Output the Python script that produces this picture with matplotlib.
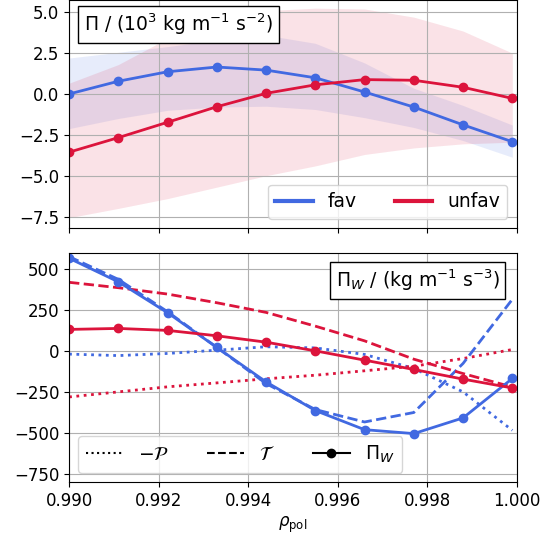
import matplotlib
matplotlib.use('Agg')
import matplotlib.pyplot as plt
from matplotlib.lines import Line2D
import numpy as np

# radial grid (rho_pol)
rho = [0.9900, 0.9911, 0.9922, 0.9933, 0.9944, 0.9955, 0.9966, 0.9977, 0.9988, 0.9999]

# top panel: Pi / (1e3 kg m^-1 s^-2)
pi_fav   = [0.00, 0.78, 1.36, 1.65, 1.46, 0.99, 0.12, -0.80, -1.89, -2.92]
pi_unfav = [-3.56, -2.67, -1.73, -0.78, 0.04, 0.56, 0.88, 0.84, 0.41, -0.27]

pi_fav_hi   = [2.20, 2.55, 2.90, 3.30, 3.60, 3.10, 1.90, 0.35, -0.70, -1.90]
pi_fav_lo   = [-2.12, -1.50, -1.00, -0.80, -0.75, -0.95, -1.45, -2.05, -2.85, -3.87]
pi_unfav_hi = [0.66, 1.80, 3.40, 4.50, 5.10, 5.25, 5.20, 4.70, 3.85, 2.50]
pi_unfav_lo = [-7.57, -7.00, -6.40, -5.70, -5.00, -4.40, -3.70, -3.30, -3.05, -2.95]

# bottom panel: Pi_W / (kg m^-1 s^-3)
piw_fav   = [568, 424, 235, 23, -188, -363, -480, -504, -408, -167]
piw_unfav = [133, 139, 127, 94, 55, 2, -55, -112, -171, -225]
T_fav     = [578, 439, 241, 23, -198, -357, -433, -375, -75, 317]
T_unfav   = [421, 388, 349, 296, 237, 153, 63, -49, -137, -219]
mP_fav    = [-18, -27, -14, 6, 27, 20, -20, -106, -249, -484]
mP_unfav  = [-280, -249, -218, -194, -169, -147, -120, -92, -45, 10]

c_fav = 'royalblue'
c_unf = 'crimson'

plt.rcParams['font.size'] = 12
big = 13.5

fig = plt.figure(figsize=(5.44, 5.37), dpi=100)
ax1 = fig.add_axes([0.127, 0.5754, 0.823, 0.4246])
ax2 = fig.add_axes([0.127, 0.1024, 0.823, 0.4264], sharex=ax1)

# --- top ---
ax1.fill_between(rho, pi_fav_lo, pi_fav_hi, color=c_fav, alpha=0.12, lw=0)
ax1.fill_between(rho, pi_unfav_lo, pi_unfav_hi, color=c_unf, alpha=0.12, lw=0)
ax1.plot(rho, pi_fav, '-o', color=c_fav, lw=2, ms=6)
ax1.plot(rho, pi_unfav, '-o', color=c_unf, lw=2, ms=6)
ax1.set_ylim(-8.2, 5.75)
ax1.set_yticks([-7.5, -5.0, -2.5, 0.0, 2.5, 5.0])
ax1.grid(True)
ax1.tick_params(labelbottom=False)
ax1.text(0.033, 0.95, r'$\Pi$ / (10$^3$ kg m$^{-1}$ s$^{-2}$)', transform=ax1.transAxes,
         ha='left', va='top', fontsize=big,
         bbox=dict(boxstyle='square,pad=0.3', fc='white', ec='black'))
h1 = [Line2D([], [], color=c_fav, lw=3), Line2D([], [], color=c_unf, lw=3)]
ax1.legend(h1, ['fav', 'unfav'], ncol=2, loc='lower right', fontsize=big)

# --- bottom ---
ax2.plot(rho, mP_fav, ':', color=c_fav, lw=2)
ax2.plot(rho, mP_unfav, ':', color=c_unf, lw=2)
ax2.plot(rho, T_fav, '--', color=c_fav, lw=2)
ax2.plot(rho, T_unfav, '--', color=c_unf, lw=2)
ax2.plot(rho, piw_fav, '-o', color=c_fav, lw=2, ms=6)
ax2.plot(rho, piw_unfav, '-o', color=c_unf, lw=2, ms=6)
ax2.set_ylim(-800, 600)
ax2.set_yticks([-750, -500, -250, 0, 250, 500])
ax2.set_xlim(0.990, 1.000)
ax2.set_xticks([0.990, 0.992, 0.994, 0.996, 0.998, 1.000])
ax2.grid(True)
ax2.set_xlabel(r'$\rho_\mathrm{pol}$')
ax2.text(0.962, 0.935, r'$\Pi_W$ / (kg m$^{-1}$ s$^{-3}$)', transform=ax2.transAxes,
         ha='right', va='top', fontsize=big,
         bbox=dict(boxstyle='square,pad=0.3', fc='white', ec='black'))
h2 = [Line2D([], [], color='black', ls=':', lw=1.5),
      Line2D([], [], color='black', ls='--', lw=1.5),
      Line2D([], [], color='black', ls='-', marker='o', lw=1.5, ms=6)]
ax2.legend(h2, [r'$-\mathcal{P}$', r'$\mathcal{T}$', r'$\Pi_W$'], ncol=3, loc='lower left', fontsize=big)

fig.savefig('out.png', dpi=100)
